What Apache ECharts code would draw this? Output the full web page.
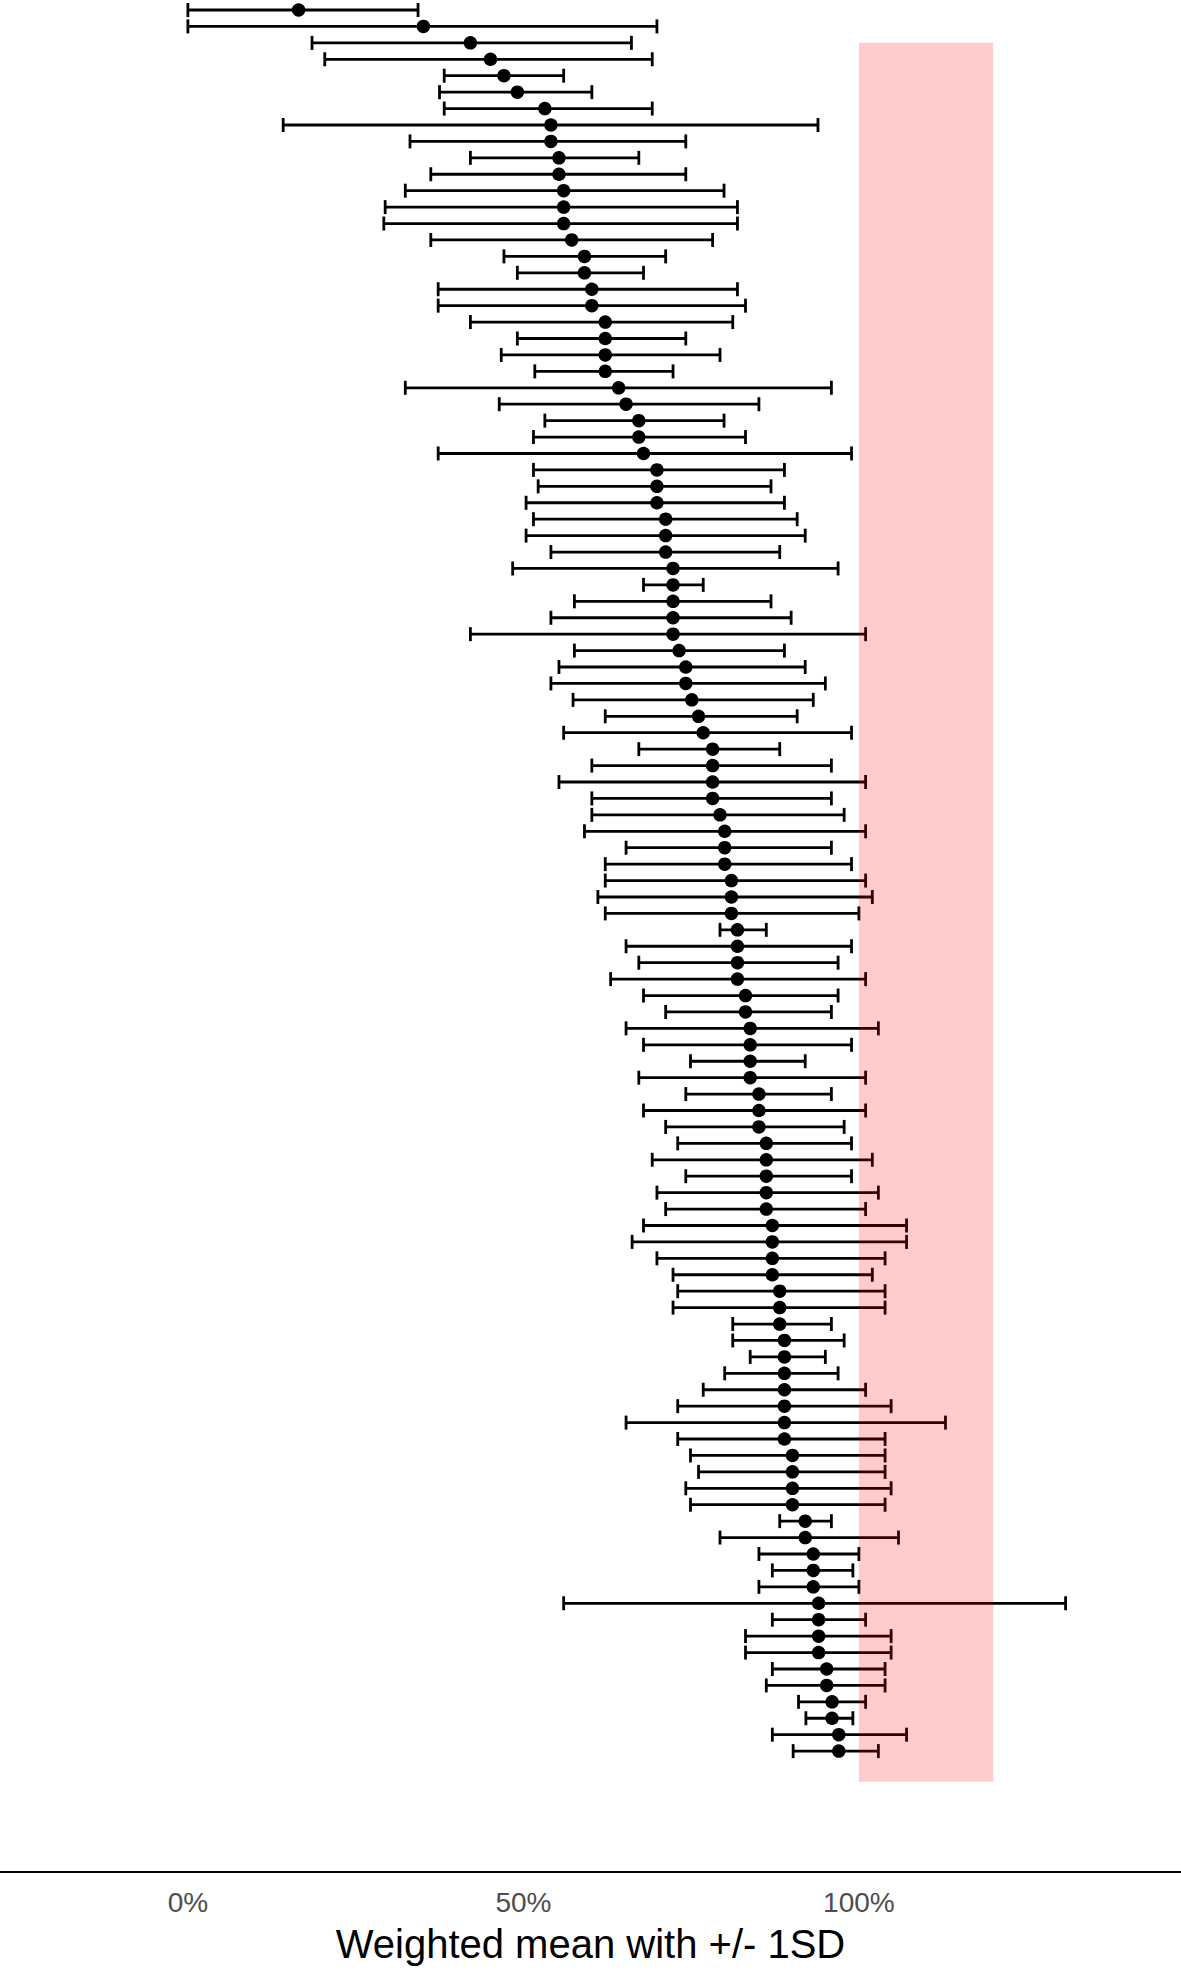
<!DOCTYPE html>
<html>
<head>
<meta charset="utf-8">
<script src="https://cdn.jsdelivr.net/npm/echarts@6/dist/echarts.min.js"></script>
<style>
html,body{margin:0;padding:0;background:#fff;}
#chart{width:1181px;height:1970px;}
</style>
</head>
<body>
<div id="chart"></div>
<script>
// Weighted mean (%) per row, top to bottom
const means = [16.5,35.1,42.1,45.1,47.1,49.1,53.2,54.1,54.1,55.3,55.3,56.0,56.0,56.0,57.2,59.1,59.1,60.2,60.2,62.2,
62.2,62.2,62.2,64.2,65.3,67.2,67.2,67.9,69.9,69.9,69.9,71.2,71.2,71.2,72.3,72.3,72.3,72.3,72.3,73.2,
74.2,74.2,75.1,76.1,76.8,78.2,78.2,78.2,78.2,79.3,80.0,80.0,80.0,81.0,81.0,81.0,81.9,81.9,81.9,81.9,
83.1,83.1,83.8,83.8,83.8,83.8,85.1,85.1,85.1,86.2,86.2,86.2,86.2,86.2,87.1,87.1,87.1,87.1,88.2,88.2,
88.2,88.9,88.9,88.9,88.9,88.9,88.9,88.9,90.1,90.1,90.1,90.1,92.0,92.0,93.2,93.2,93.2,94.0,94.0,94.0,
94.0,95.2,95.2,96.0,96.0,97.0,97.0];
// mean - 1SD (%)
const lows = [0,0,18.5,20.4,38.2,37.5,38.2,14.2,33.1,42.1,36.2,32.4,29.4,29.2,36.2,47.1,49.1,37.3,37.3,42.1,
49.1,46.7,51.7,32.4,46.4,53.2,51.5,37.3,51.5,52.2,50.4,51.5,50.4,54.1,48.4,67.9,57.6,54.1,42.1,57.6,
55.3,54.1,57.4,62.2,56.0,67.2,60.2,55.3,60.2,60.2,59.1,65.3,62.2,62.2,61.1,62.2,79.3,65.3,67.2,63.0,
67.9,71.2,65.3,67.9,74.9,67.2,74.2,67.9,71.2,73.0,69.2,74.2,69.9,71.2,67.9,66.2,69.9,72.3,73.0,72.3,
81.2,81.2,83.8,80.0,76.8,73.0,65.3,73.0,74.9,76.1,74.2,74.9,88.2,79.3,85.1,87.1,85.1,56.0,87.1,83.1,
83.1,87.1,86.2,91.0,92.1,87.1,90.2];
// mean + 1SD (%)
const highs = [34.3,69.9,66.1,69.2,56.0,60.2,69.2,93.9,74.2,67.2,74.2,79.9,81.9,81.9,78.2,71.2,67.9,81.9,83.1,81.2,
74.2,79.3,72.3,95.9,85.1,79.9,83.1,98.9,88.9,86.9,88.9,90.8,92.0,88.2,96.9,76.8,86.9,89.9,101.0,88.9,
92.0,95.0,93.2,90.8,98.9,88.2,95.9,101.0,95.9,97.8,101.0,95.9,98.9,101.0,102.0,100.0,86.2,98.9,96.9,101.0,
96.9,95.9,102.9,98.9,92.0,101.0,95.9,101.0,97.8,98.9,102.0,98.9,102.9,101.0,107.1,107.1,103.9,102.0,103.9,103.9,
95.9,97.8,95.0,96.9,101.0,104.8,112.9,103.9,103.9,103.9,104.8,103.9,95.9,105.9,100.0,99.1,100.0,130.8,101.0,104.8,
104.8,103.9,103.9,101.0,99.1,107.1,102.9];
// Shaded target range: x from 100% to 120%, spanning row positions
const bandX = [100, 120];
const bandRows = [3, 108.86];
const tickValues = [0, 50, 100];
const axisTitle = 'Weighted mean with +/- 1SD';

const rows = means.map((m, i) => i + 1);
const barData = rows.map((r, i) => [r, lows[i], highs[i]]);
const dotData = rows.map((r, i) => [means[i], r]);

const chart = echarts.init(document.getElementById('chart'), null, {renderer: 'svg', width: 1181, height: 1970});
chart.setOption({
  animation: false,
  backgroundColor: '#ffffff',
  grid: {left: 0, right: 0, top: 0, bottom: 98, containLabel: false},
  xAxis: {
    type: 'value', min: -28, max: 148,
    axisLine: {show: true, lineStyle: {color: '#000', width: 2}},
    axisTick: {show: false},
    splitLine: {show: false},
    axisLabel: {
      customValues: tickValues,
      formatter: '{value}%',
      color: '#4d4d4d', fontSize: 28, margin: 16,
      fontFamily: 'Liberation Sans, Arial, sans-serif'
    }
  },
  yAxis: {
    type: 'value', inverse: true, min: 0.3912, max: 114.36,
    show: false, splitLine: {show: false}
  },
  graphic: [{
    type: 'text', left: 'center', top: 1924,
    style: {text: axisTitle, fill: '#000', fontSize: 40, fontFamily: 'Liberation Sans, Arial, sans-serif'}
  }],
  series: [
    {
      type: 'custom', z: 2,
      encode: {x: [1, 2], y: 0},
      data: barData,
      renderItem: function (params, api) {
        const y = api.value(0);
        const p1 = api.coord([api.value(1), y]);
        const p2 = api.coord([api.value(2), y]);
        const h = 7;
        const st = {stroke: '#000', lineWidth: 2.8};
        return {
          type: 'group',
          children: [
            {type: 'line', shape: {x1: p1[0], y1: p1[1], x2: p2[0], y2: p2[1]}, style: st},
            {type: 'line', shape: {x1: p1[0], y1: p1[1] - h, x2: p1[0], y2: p1[1] + h}, style: st},
            {type: 'line', shape: {x1: p2[0], y1: p2[1] - h, x2: p2[0], y2: p2[1] + h}, style: st}
          ]
        };
      }
    },
    {
      type: 'scatter', z: 3,
      data: dotData,
      symbol: 'circle', symbolSize: 13.5,
      itemStyle: {color: '#000', opacity: 1}
    },
    {
      type: 'custom', z: 5,
      data: [[bandX[0], bandX[1], bandRows[0], bandRows[1]]],
      encode: {x: [0, 1], y: [2, 3]},
      renderItem: function (params, api) {
        const a = api.coord([api.value(0), api.value(2)]);
        const b = api.coord([api.value(1), api.value(3)]);
        return {
          type: 'rect',
          shape: {x: a[0], y: a[1], width: b[0] - a[0], height: b[1] - a[1]},
          style: {fill: 'rgba(255,0,0,0.2)'}
        };
      }
    }
  ]
});
</script>
</body>
</html>
